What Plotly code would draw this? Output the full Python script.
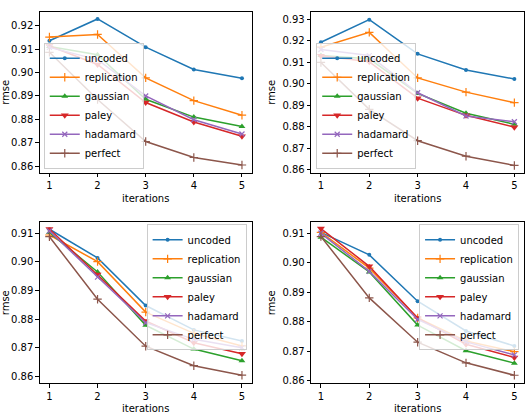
import plotly.graph_objects as go

iterations = [1, 2, 3, 4, 5]
series_names = ["uncoded", "replication", "gaussian", "paley", "hadamard", "perfect"]

# panel top-left
tl_uncoded = [0.9135, 0.9228, 0.9108, 0.9013, 0.8975]
tl_replication = [0.9151, 0.9162, 0.8977, 0.8880, 0.8818]
tl_gaussian = [0.9111, 0.9076, 0.8886, 0.8810, 0.8770]
tl_paley = [0.9113, 0.9034, 0.8872, 0.8789, 0.8728]
tl_hadamard = [0.9107, 0.9055, 0.8900, 0.8799, 0.8738]
tl_perfect = [0.9086, 0.8885, 0.8706, 0.8638, 0.8606]

# panel top-right
tr_uncoded = [0.9193, 0.9298, 0.9139, 0.9064, 0.9022]
tr_replication = [0.9170, 0.9239, 0.9027, 0.8961, 0.8912]
tr_gaussian = [0.9131, 0.9116, 0.8955, 0.8863, 0.8811]
tr_paley = [0.9130, 0.9102, 0.8933, 0.8853, 0.8798]
tr_hadamard = [0.9159, 0.9131, 0.8958, 0.8850, 0.8823]
tr_perfect = [0.9099, 0.8881, 0.8735, 0.8663, 0.8620]

# panel bottom-left
bl_uncoded = [0.9114, 0.9014, 0.8848, 0.8763, 0.8724]
bl_replication = [0.9094, 0.9001, 0.8825, 0.8751, 0.8707]
bl_gaussian = [0.9103, 0.8965, 0.8779, 0.8696, 0.8655]
bl_paley = [0.9115, 0.8956, 0.8794, 0.8718, 0.8680]
bl_hadamard = [0.9108, 0.8947, 0.8788, 0.8730, 0.8701]
bl_perfect = [0.9088, 0.8870, 0.8706, 0.8638, 0.8605]

# panel bottom-right
br_uncoded = [0.9103, 0.9027, 0.8870, 0.8769, 0.8718]
br_replication = [0.9103, 0.8982, 0.8813, 0.8735, 0.8699]
br_gaussian = [0.9087, 0.8969, 0.8789, 0.8702, 0.8660]
br_paley = [0.9116, 0.8988, 0.8813, 0.8724, 0.8679]
br_hadamard = [0.9100, 0.8971, 0.8808, 0.8732, 0.8688]
br_perfect = [0.9089, 0.8881, 0.8731, 0.8661, 0.8619]

panels = [
    [tl_uncoded, tl_replication, tl_gaussian, tl_paley, tl_hadamard, tl_perfect],
    [tr_uncoded, tr_replication, tr_gaussian, tr_paley, tr_hadamard, tr_perfect],
    [bl_uncoded, bl_replication, bl_gaussian, bl_paley, bl_hadamard, bl_perfect],
    [br_uncoded, br_replication, br_gaussian, br_paley, br_hadamard, br_perfect],
]

colors = ["#1f77b4", "#ff7f0e", "#2ca02c", "#d62728", "#9467bd", "#8c564b"]
symbols = ["circle", "cross-thin", "triangle-up", "triangle-down", "x-thin", "cross-thin"]
msizes = [4, 6, 6, 7, 5, 6]

W, H = 530, 414
boxes = [  # left, right, top, bottom in px
    (37, 250, 12, 174),
    (310, 524, 12, 174),
    (37, 250, 224, 386),
    (310, 524, 224, 386),
]
yranges = [(0.8573, 0.9258), (0.8586, 0.9334), (0.8577, 0.9138), (0.8592, 0.9137)]
ytop = [0.92, 0.93, 0.91, 0.91]

font = dict(family="DejaVu Sans", size=10, color="black")
fig = go.Figure()
layout = dict(
    width=W, height=H, margin=dict(l=0, r=0, t=0, b=0),
    paper_bgcolor="white", plot_bgcolor="white", font=font,
)

for p, data in enumerate(panels):
    sfx = "" if p == 0 else str(p + 1)
    lg = "legend" if p == 0 else "legend" + str(p + 1)
    for i, name in enumerate(series_names):
        thin = symbols[i].endswith("thin")
        fig.add_trace(go.Scatter(
            x=iterations, y=data[i], name=name, mode="lines+markers",
            line=dict(color=colors[i], width=1.5),
            marker=dict(symbol=symbols[i], size=msizes[i], color=colors[i],
                        line=dict(color=colors[i], width=1.2 if thin else 0)),
            xaxis="x" + sfx, yaxis="y" + sfx, legend=lg,
        ))
    l, r, t, b = boxes[p]
    ticks = [round(0.86 + 0.01 * k, 2) for k in range(int(round((ytop[p] - 0.86) / 0.01)) + 1)]
    layout["xaxis" + sfx] = dict(
        domain=[l / W, r / W], anchor="y" + sfx, range=[0.8, 5.2],
        tickvals=iterations, ticks="outside", ticklen=3.5, tickwidth=1, tickcolor="black",
        showline=True, mirror=True, linecolor="black", linewidth=1, showgrid=False, zeroline=False,
        title=dict(text="iterations", font=font, standoff=4),
    )
    layout["yaxis" + sfx] = dict(
        domain=[1 - b / H, 1 - t / H], anchor="x" + sfx, range=list(yranges[p]),
        tickvals=ticks, tickformat=".2f", ticks="outside", ticklen=3.5, tickwidth=1, tickcolor="black",
        showline=True, mirror=True, linecolor="black", linewidth=1, showgrid=False, zeroline=False,
        title=dict(text="rmse", font=font, standoff=4),
    )

legend_pos = [
    dict(x=41 / W, y=1 - 170 / H, xanchor="left", yanchor="bottom"),
    dict(x=315 / W, y=1 - 170 / H, xanchor="left", yanchor="bottom"),
    dict(x=245 / W, y=1 - 226 / H, xanchor="right", yanchor="top"),
    dict(x=519 / W, y=1 - 226 / H, xanchor="right", yanchor="top"),
]
for p, pos in enumerate(legend_pos):
    key = "legend" if p == 0 else "legend" + str(p + 1)
    layout[key] = dict(
        **pos, bgcolor="rgba(255,255,255,0.8)", bordercolor="#cccccc", borderwidth=1,
        font=font, tracegroupgap=0, itemwidth=30,
    )

fig.update_layout(**layout)
fig.write_html("out.html")
